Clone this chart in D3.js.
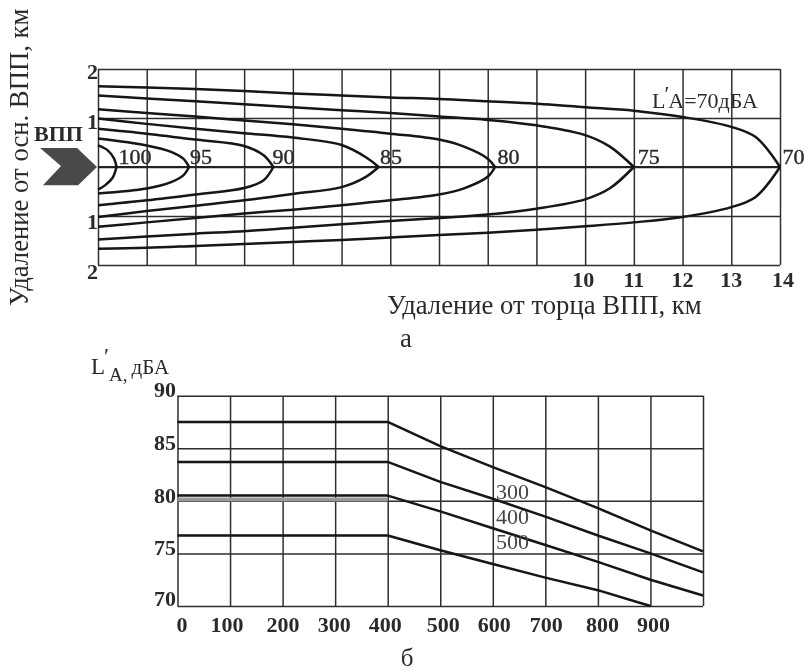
<!DOCTYPE html>
<html>
<head>
<meta charset="utf-8">
<script src="https://cdn.jsdelivr.net/npm/d3@7"></script>
<style>
  body { margin: 0; background: #fff; }
  svg { display: block; }
  text { font-family: "Liberation Serif", serif; fill: #2b2b2b; }
  .grid line { stroke: #2e2e2e; stroke-width: 1.5; }
  .grid path { display: none; }
  .curve { fill: none; stroke: #141414; stroke-width: 2.5; stroke-linejoin: round; }
  .num { font-weight: bold; font-size: 22px; }
  .lab { font-size: 22px; }
  .title { font-size: 26.7px; }
</style>
</head>
<body>
<div id="chart"></div>
<script>
// chart a: noise contours, [km from runway end, km from axis]
const contourLevels = [100, 95, 90, 85, 80, 75, 70];
const upper100 = [[0, .44], [.2, .34], [.33, .17], [.38, 0]];
const lower100 = [[0, -.46], [.15, -.37], [.3, -.22], [.38, 0]];
const upper95 = [[0, .58], [1, .44], [1.5, .31], [1.75, .17], [1.87, 0]];
const lower95 = [[0, -.54], [1, -.44], [1.5, -.31], [1.75, -.17], [1.87, 0]];
const upper90 = [[0, .78], [1, .68], [2, .56], [3, .43], [3.4, .24], [3.6, 0]];
const lower90 = [[0, -.78], [1, -.68], [2, -.56], [3, -.43], [3.4, -.27], [3.6, 0]];
const upper85 = [[0, .99], [1, .88], [2, .78], [3, .69], [4, .6], [5, .45], [5.5, .2], [5.76, 0]];
const lower85 = [[0, -1.02], [1, -.9], [2, -.79], [3, -.68], [4, -.55], [5, -.41], [5.5, -.2], [5.76, 0]];
const upper80 = [[0, 1.18], [1, 1.1], [2, 1.03], [3, .95], [4, .87], [5, .78], [6, .68], [7, .56], [7.5, .42], [8, .17], [8.15, 0]];
const lower80 = [[0, -1.22], [1, -1.13], [2, -1.04], [3, -.95], [4, -.87], [5, -.78], [6, -.68], [7, -.56], [7.5, -.44], [8, -.2], [8.15, 0]];
const upper75 = [[0, 1.46], [1, 1.4], [2, 1.34], [3, 1.28], [4, 1.22], [5, 1.16], [6, 1.1], [7, 1.03], [8, .96], [9, .85], [10, .65], [10.5, .42], [11, 0]];
const lower75 = [[0, -1.48], [1, -1.42], [2, -1.36], [3, -1.31], [4, -1.24], [5, -1.17], [6, -1.1], [7, -1.04], [8, -.97], [9, -.85], [10, -.66], [10.5, -.44], [11, 0]];
const upper70 = [[0, 1.65], [1, 1.62], [2, 1.59], [3, 1.55], [4, 1.5], [5, 1.46], [6, 1.42], [7, 1.39], [8, 1.34], [9, 1.29], [10, 1.22], [11, 1.15], [12, 1.02], [13, .82], [13.5, .61], [14, 0]];
const lower70 = [[0, -1.67], [1, -1.65], [2, -1.61], [3, -1.57], [4, -1.53], [5, -1.49], [6, -1.44], [7, -1.39], [8, -1.34], [9, -1.28], [10, -1.21], [11, -1.13], [12, -1.02], [13, -.82], [13.5, -.61], [14, 0]];
const contours = [upper100, lower100, upper95, lower95, upper90, lower90, upper85, lower85, upper80, lower80, upper75, lower75, upper70, lower70];
const contourLabelX = [.42, 1.89, 3.58, 5.79, 8.2, 11.08, 14.05];
const runwayMarker = [[-1.19, .39], [-.43, .39], [-.02, 0], [-.41, -.37], [-1.13, -.37], [-.76, .02]];
const kmTicks = d3.range(0, 15);
const kmLabels = [10, 11, 12, 13, 14];
const lateralTicks = [-2, -1, 0, 1, 2];

// chart b: level against height
const heights = [0, 400, 500, 600, 700, 800, 900, 1000];
const line300 = [87.5, 87.5, 85.2, 83.2, 81.3, 79.3, 77.2, 75.2];
const line400 = [83.7, 83.7, 81.8, 80.2, 78.5, 76.7, 75, 73.2];
const line500 = [80.5, 80.5, 79, 77.4, 75.8, 74.2, 72.5, 71];
const line600 = [76.7, 76.7, 75.3, 74, 72.7, 71.5, 70];
const levelLines = [line300, line400, line500, line600];
const heightTicks = d3.range(0, 1100, 100);
const heightLabels = d3.range(0, 1000, 100);
const heightLabelShift = [4.5, -3, .5, -1, -2.5, 3, 1.5, 1, 4.5, 3];
const levelTicks = [70, 75, 80, 85, 90];
const levelNotes = [["300", 80.2], ["400", 77.8], ["500", 75.4]];

const svg = d3.select("#chart").append("svg")
  .attr("width", 804)
  .attr("height", 672);

// soften everything a little, the reference is a scanned page
const defs = svg.append("defs");
defs.append("filter").attr("id", "soft")
  .append("feGaussianBlur").attr("stdDeviation", 0.45);
const root = svg.append("g").attr("filter", "url(#soft)");

// ---- chart a
const xa = d3.scaleLinear().domain([0, 14]).range([98, 780]);
const ya = d3.scaleLinear().domain([-2, 2]).range([265, 69]);

root.append("g")
  .attr("class", "grid")
  .attr("transform", "translate(0,265)")
  .call(d3.axisBottom(xa).tickValues(kmTicks).tickSize(-196).tickFormat(""));
root.append("g")
  .attr("class", "grid")
  .attr("transform", "translate(98,0)")
  .call(d3.axisLeft(ya).tickValues(lateralTicks).tickSize(-682).tickFormat(""));

root.append("line")
  .attr("x1", xa(0)).attr("x2", xa(14))
  .attr("y1", ya(0)).attr("y2", ya(0))
  .attr("stroke", "#222").attr("stroke-width", 2.2);

const lineA = d3.line()
  .x(d => xa(d[0]))
  .y(d => ya(d[1]))
  .curve(d3.curveCatmullRom);

root.append("g").selectAll("path")
  .data(contours)
  .join("path")
  .attr("class", "curve")
  .attr("d", lineA);

root.append("path")
  .datum(runwayMarker)
  .attr("d", d3.line().x(d => xa(d[0])).y(d => ya(d[1])).curve(d3.curveLinearClosed))
  .attr("fill", "#4a4a4a");

root.append("g").selectAll("text")
  .data(contourLevels)
  .join("text")
  .attr("class", "lab")
  .attr("x", (d, i) => xa(contourLabelX[i]))
  .attr("y", ya(0) - 3)
  .attr("stroke", "#2b2b2b").attr("stroke-width", 0.4)
  .text(d => d);

root.append("g").selectAll("text")
  .data(kmLabels)
  .join("text")
  .attr("class", "num")
  .attr("text-anchor", "middle")
  .attr("x", d => xa(d) + (d === 14 ? 3 : d === 10 ? -2 : 0))
  .attr("y", 287)
  .text(d => d);

// labels sit below their grid lines, more so further down
root.append("g").selectAll("text")
  .data(lateralTicks.filter(d => d !== 0))
  .join("text")
  .attr("class", "num")
  .attr("text-anchor", "end")
  .attr("x", 98)
  .attr("y", d => ya(d) + (d === -2 ? 14 : d === -1 ? 13 : d === 1 ? 11 : 10))
  .text(d => Math.abs(d));

root.append("text")
  .attr("x", 34).attr("y", 141)
  .attr("font-size", 22).attr("font-weight", "bold")
  .text("ВПП");

const noteA = root.append("text").attr("class", "lab").attr("x", 652).attr("y", 108);
noteA.append("tspan").text("L");
noteA.append("tspan").attr("dy", -7).attr("dx", -1).text("′");
noteA.append("tspan").attr("dy", 7).attr("dx", -1).text("A=70дБА");

root.append("text")
  .attr("class", "title")
  .attr("transform", "translate(28,306) rotate(-90)")
  .text("Удаление от осн. ВПП, км");
root.append("text")
  .attr("class", "title")
  .attr("x", 387).attr("y", 314)
  .text("Удаление от торца ВПП, км");
root.append("text")
  .attr("class", "title")
  .attr("x", 406).attr("y", 347)
  .attr("text-anchor", "middle")
  .text("а");

// ---- chart b
const xb = d3.scaleLinear().domain([0, 1000]).range([177.5, 703]);
const yb = d3.scaleLinear().domain([70, 90]).range([606, 395.7]);

root.append("g")
  .attr("class", "grid")
  .attr("transform", "translate(0,606)")
  .call(d3.axisBottom(xb).tickValues(heightTicks).tickSize(-210.3).tickFormat(""));
root.append("g")
  .attr("class", "grid")
  .attr("transform", "translate(177.5,0)")
  .call(d3.axisLeft(yb).tickValues(levelTicks).tickSize(-525.5).tickFormat(""));

// the 80 dB grid line is a wider grey band in the reference
root.append("line")
  .attr("x1", xb(0)).attr("x2", xb(400))
  .attr("y1", yb(80.13)).attr("y2", yb(80.13))
  .attr("stroke", "#999").attr("stroke-width", 4);

const lineB = d3.line()
  .x((d, i) => xb(heights[i]))
  .y(d => yb(d));

root.append("g").selectAll("path")
  .data(levelLines)
  .join("path")
  .attr("class", "curve")
  .attr("d", lineB);

root.append("g").selectAll("text")
  .data(levelNotes)
  .join("text")
  .attr("class", "lab")
  .attr("x", xb(606))
  .attr("y", d => yb(d[1]))
  .style("fill", "#444")
  .text(d => d[0]);

root.append("g").selectAll("text")
  .data(heightLabels)
  .join("text")
  .attr("class", "num")
  .attr("text-anchor", "middle")
  .attr("x", (d, i) => xb(d) + heightLabelShift[i])
  .attr("y", 632)
  .text(d => d);

root.append("g").selectAll("text")
  .data(levelTicks)
  .join("text")
  .attr("class", "num")
  .attr("text-anchor", "end")
  .attr("x", 176)
  .attr("y", d => yb(d) + (d === 70 ? 0 : d === 90 ? 1 : 2))
  .text(d => d);

const noteB = root.append("text").attr("x", 91).attr("y", 374).attr("font-size", 21);
noteB.append("tspan").attr("font-size", 23).text("L");
noteB.append("tspan").attr("dy", -10).attr("dx", -1).attr("font-size", 23).text("′");
noteB.append("tspan").attr("dy", 17).attr("font-size", 19).text("A,");
noteB.append("tspan").attr("dy", -7).attr("dx", 4).text("дБА");

root.append("text")
  .attr("class", "title")
  .attr("x", 407).attr("y", 666)
  .style("font-size", "25px")
  .attr("text-anchor", "middle")
  .text("б");
</script>
</body>
</html>
